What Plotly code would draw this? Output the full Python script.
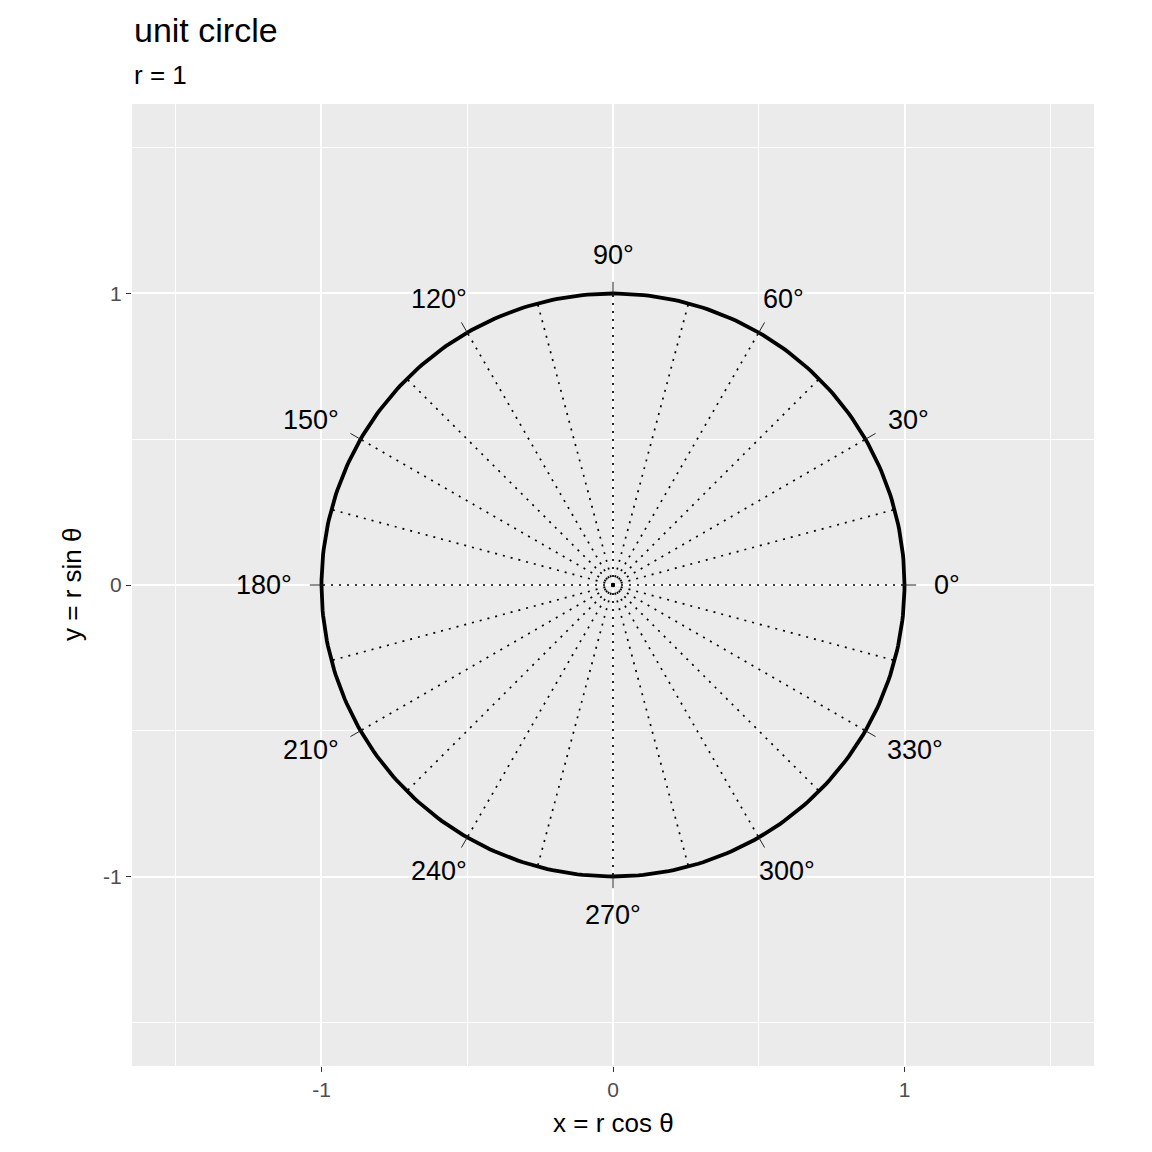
#!/usr/bin/env python3
"""Unit circle, ggplot-like look, in plotly."""
import numpy as np
import plotly.graph_objects as go

# radius and angles (degrees)
radius = 1
spoke_angles = [0, 15, 30, 45, 60, 75, 90, 105, 120, 135, 150, 165,
                180, 195, 210, 225, 240, 255, 270, 285, 300, 315, 330, 345]
label_angles = [0, 30, 60, 90, 120, 150, 180, 210, 240, 270, 300, 330]
label_text = [f"{a}°" for a in label_angles]
axis_ticks = [-1, 0, 1]
axis_range = [-1.65, 1.65]

FONT = "Liberation Sans, Arial, sans-serif"
LABEL_SIZE = 27

fig = go.Figure()

# dotted spokes from the origin to the circle
sx, sy = [], []
for a in spoke_angles:
    t = np.deg2rad(a)
    sx += [0, radius * np.cos(t), None]
    sy += [0, radius * np.sin(t), None]
fig.add_trace(go.Scatter(x=sx, y=sy, mode="lines",
                         line=dict(color="black", width=1.7, dash="2px,6px"),
                         hoverinfo="skip", showlegend=False))

# the circle itself
th = np.linspace(0, 2 * np.pi, 361)
fig.add_trace(go.Scatter(x=radius * np.cos(th), y=radius * np.sin(th), mode="lines",
                         line=dict(color="black", width=3.8),
                         hoverinfo="skip", showlegend=False))

# short ticks at every 30 degrees (mostly outside the circle)
tx, ty = [], []
for a in label_angles:
    t = np.deg2rad(a)
    tx += [0.99 * radius * np.cos(t), 1.04 * radius * np.cos(t), None]
    ty += [0.99 * radius * np.sin(t), 1.04 * radius * np.sin(t), None]
fig.add_trace(go.Scatter(x=tx, y=ty, mode="lines",
                         line=dict(color="#222222", width=1),
                         hoverinfo="skip", showlegend=False))

# degree labels: anchored at r = 1.1, justified outward like hjust/vjust in ggplot
annots = []
for a, txt in zip(label_angles, label_text):
    t = np.deg2rad(a)
    c, s = np.cos(t), np.sin(t)
    hjust, vjust = (1 - c) / 2, (1 - s) / 2
    w = (len(txt) - 1) * 0.556 * LABEL_SIZE + 0.4 * LABEL_SIZE
    h = 0.72 * LABEL_SIZE
    annots.append(dict(
        text=txt, x=1.1 * radius * c, y=1.1 * radius * s, xref="x", yref="y",
        xanchor="center", yanchor="middle", showarrow=False,
        xshift=(0.5 - hjust) * w, yshift=(0.5 - vjust) * h,
        font=dict(family=FONT, size=LABEL_SIZE, color="black"),
    ))

ax_common = dict(
    range=axis_range, tickvals=axis_ticks, ticktext=[str(v) for v in axis_ticks],
    showgrid=True, gridcolor="white", gridwidth=1.6,
    minor=dict(dtick=0.5, tick0=0.5, showgrid=True, gridcolor="white", gridwidth=0.7),
    zeroline=False, ticks="outside", ticklen=5, tickwidth=1.2, tickcolor="#333333",
    tickfont=dict(family=FONT, size=21, color="#4D4D4D"),
    showline=False, fixedrange=True,
)

annots += [
    dict(text="unit circle", xref="paper", yref="paper", x=0, y=1,
         xanchor="left", yanchor="middle", yshift=74, showarrow=False,
         font=dict(size=34, color="black")),
    dict(text="r = 1", xref="paper", yref="paper", x=0, y=1,
         xanchor="left", yanchor="middle", yshift=29, showarrow=False,
         font=dict(size=26, color="black")),
    dict(text="x = r cos θ", xref="paper", yref="paper", x=0.5, y=0,
         xanchor="center", yanchor="middle", yshift=-57, showarrow=False,
         font=dict(size=26, color="black")),
    dict(text="y = r sin θ", xref="paper", yref="paper", x=0, y=0.5,
         xanchor="center", yanchor="middle", xshift=-60, showarrow=False,
         textangle=-90, font=dict(size=26, color="black")),
]

fig.update_layout(
    width=1152, height=1152,
    margin=dict(l=124, r=66, t=96, b=94),
    plot_bgcolor="#EBEBEB", paper_bgcolor="white",
    xaxis=dict(**ax_common),
    yaxis=dict(**ax_common),
    font=dict(family=FONT, color="black"),
    annotations=annots,
)

fig.write_html("out.html")
